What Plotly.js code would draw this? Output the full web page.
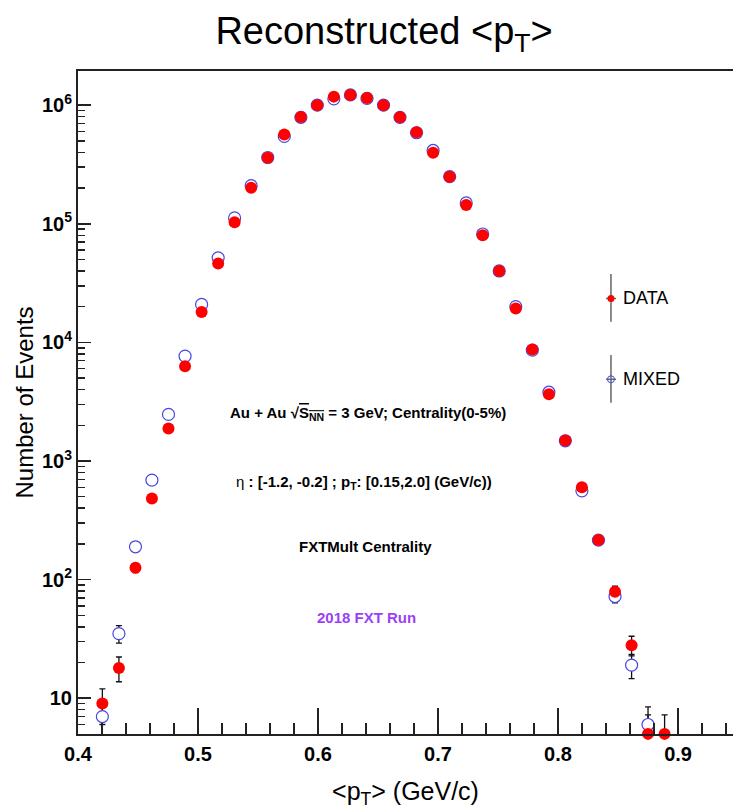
<!DOCTYPE html>
<html>
<head>
<meta charset="utf-8">
<script src="https://cdn.plot.ly/plotly-3.0.1.min.js"></script>
<style>html,body{margin:0;padding:0;background:#fff;}</style>
</head>
<body>
<div id="chart" style="width:733px;height:811px;"></div>
<script>
// Bin centres of the reconstructed <pT> histogram (GeV/c)
const binCenters = [
  0.4203, 0.4341, 0.4479, 0.4616, 0.4754, 0.4892, 0.5030, 0.5168, 0.5305, 0.5443,
  0.5581, 0.5719, 0.5857, 0.5994, 0.6132, 0.6270, 0.6408, 0.6546, 0.6683, 0.6821,
  0.6959, 0.7097, 0.7235, 0.7372, 0.7510, 0.7648, 0.7786, 0.7924, 0.8061, 0.8199,
  0.8337, 0.8475, 0.8613, 0.8750, 0.8888
];

// Same-event (DATA) counts per bin
const dataCounts = [
  9, 18, 126, 483, 1880, 6300, 18000, 46200, 103000, 201000,
  360000, 566000, 793000, 1000000, 1180000, 1220000, 1150000, 1000000, 790000, 590000,
  397000, 249000, 144000, 80000, 40000, 19300, 8700, 3660, 1490, 600,
  216, 79, 28, 5, 5
];

// Mixed-event (MIXED) counts per bin
const mixedCounts = [
  7, 35, 189, 689, 2470, 7650, 20900, 51600, 112000, 210000,
  362000, 545000, 790000, 1000000, 1130000, 1220000, 1140000, 1000000, 790000, 585000,
  415000, 250000, 150000, 82000, 40000, 20000, 8600, 3800, 1480, 560,
  215, 72, 19, 6, null
];

const xTickVals = [0.4, 0.5, 0.6, 0.7, 0.8, 0.9];
const xTickText = ['0.4', '0.5', '0.6', '0.7', '0.8', '0.9'];
const yTickVals = [10, 100, 1000, 10000, 100000, 1000000];
const yTickText = ['10', '10<sup>2</sup>', '10<sup>3</sup>', '10<sup>4</sup>', '10<sup>5</sup>', '10<sup>6</sup>'];

const FONT = 'Liberation Sans, Arial, Helvetica, sans-serif';
const RED = '#ff0000';
const BLUE = 'rgb(70,70,225)';

// minor log ticks (2..9 of each decade) and minor x ticks every 0.02
const yMinor = [];
for (let d = 0; d <= 6; d++) {
  for (let m = 2; m <= 9; m++) yMinor.push(m * Math.pow(10, d));
}
const xMinor = [];
for (let i = 0; i <= 30; i++) xMinor.push(+(0.4 + 0.02 * i).toFixed(2));

const errStyle = {type: 'sqrt', visible: true, color: '#111', thickness: 1.3, width: 3};

const traces = [
  // Poisson error bars, clipped to the frame
  {x: binCenters, y: mixedCounts, type: 'scatter', mode: 'markers',
   marker: {size: 12, opacity: 0}, error_y: errStyle, cliponaxis: true,
   hoverinfo: 'skip', showlegend: false},
  {x: binCenters, y: dataCounts, type: 'scatter', mode: 'markers',
   marker: {size: 12, opacity: 0}, error_y: errStyle, cliponaxis: true,
   hoverinfo: 'skip', showlegend: false},
  // markers (open circles keep a white core so the bars stop at the rim)
  {x: binCenters, y: mixedCounts, type: 'scatter', mode: 'markers', name: 'MIXED',
   marker: {symbol: 'circle', size: 12, color: '#ffffff', line: {width: 1.2, color: BLUE}},
   cliponaxis: false, showlegend: false},
  {x: binCenters, y: dataCounts, type: 'scatter', mode: 'markers', name: 'DATA',
   marker: {symbol: 'circle', size: 12, color: RED, line: {width: 0}},
   cliponaxis: false, showlegend: false}
];

const L = {x: 0.8137};
const annFont = {family: FONT, size: 15, color: '#000'};

const layout = {
  width: 733, height: 811,
  margin: {l: 78, r: 0, t: 71, b: 77},
  paper_bgcolor: '#fff', plot_bgcolor: '#fff',
  showlegend: false,
  title: {
    text: 'Reconstructed &lt;p<sub>T</sub>&gt;',
    font: {family: FONT, size: 38, color: '#000'},
    x: 0.524, xref: 'container', xanchor: 'center',
    y: 0.962, yref: 'container', yanchor: 'middle'
  },
  xaxis: {
    range: [0.4, 0.9458],
    showgrid: false, zeroline: false,
    showline: true, linecolor: '#222', linewidth: 2, mirror: true,
    ticks: 'inside', ticklen: 26, tickwidth: 1.5, tickcolor: '#222',
    tickmode: 'array', tickvals: xTickVals, ticktext: xTickText,
    tickfont: {family: FONT, size: 20, color: '#000', weight: 'bold'},
    ticklabelstandoff: 1,
    minor: {tickmode: 'array', tickvals: xMinor, ticks: 'inside', ticklen: 11,
            tickwidth: 1.5, tickcolor: '#222', showgrid: false},
    title: {text: '&lt;p<sub>T</sub>&gt; (GeV/c)', font: {family: FONT, size: 25, color: '#000'}, standoff: 18}
  },
  yaxis: {
    type: 'log',
    range: [0.698, 6.288],
    showgrid: false, zeroline: false,
    showline: true, linecolor: '#222', linewidth: 2, mirror: false,
    ticks: 'inside', ticklen: 13, tickwidth: 1.5, tickcolor: '#222',
    tickmode: 'array', tickvals: yTickVals, ticktext: yTickText,
    tickfont: {family: FONT, size: 20, color: '#000', weight: 'bold'},
    ticklabelstandoff: 0,
    minor: {tickmode: 'array', tickvals: yMinor, ticks: 'inside', ticklen: 7,
            tickwidth: 1.5, tickcolor: '#222', showgrid: false},
    title: {text: 'Number of Events', font: {family: FONT, size: 24, color: '#000'}, standoff: 2}
  },
  annotations: [
    {xref: 'paper', yref: 'paper', x: 0.4423, y: 0.4836, xanchor: 'center', yanchor: 'middle', showarrow: false,
     text: '<b>Au + Au √<span style="text-decoration:overline">S<sub>NN</sub></span> = 3 GeV; Centrality(0-5%)</b>', font: annFont},
    {xref: 'paper', yref: 'paper', x: 0.4362, y: 0.380, xanchor: 'center', yanchor: 'middle', showarrow: false,
     text: 'η<b> : [-1.2, -0.2] ; p<sub>T</sub>: [0.15,2.0] (GeV/c))</b>', font: annFont},
    {xref: 'paper', yref: 'paper', x: 0.4394, y: 0.2825, xanchor: 'center', yanchor: 'middle', showarrow: false,
     text: '<b>FXTMult Centrality</b>', font: annFont},
    {xref: 'paper', yref: 'paper', x: 0.4412, y: 0.1754, xanchor: 'center', yanchor: 'middle', showarrow: false,
     text: '<b>2018 FXT Run</b>', font: {family: FONT, size: 15, color: '#9b3ff5'}},
    {xref: 'paper', yref: 'paper', x: 0.8287, y: 0.6569, xanchor: 'left', yanchor: 'middle', showarrow: false,
     text: 'DATA', font: {family: FONT, size: 18, color: '#000'}},
    {xref: 'paper', yref: 'paper', x: 0.8287, y: 0.535, xanchor: 'left', yanchor: 'middle', showarrow: false,
     text: 'MIXED', font: {family: FONT, size: 18, color: '#000'}}
  ],
  shapes: [
    // DATA legend entry
    {type: 'line', xref: 'paper', yref: 'paper', x0: L.x, x1: L.x, y0: 0.6219, y1: 0.6938, line: {color: '#666', width: 1.5}},
    {type: 'line', xref: 'paper', yref: 'paper', xsizemode: 'pixel', xanchor: L.x, x0: -5, x1: 5, y0: 0.6569, y1: 0.6569, line: {color: '#666', width: 1.5}},
    {type: 'circle', xref: 'paper', yref: 'paper', xsizemode: 'pixel', ysizemode: 'pixel', xanchor: L.x, yanchor: 0.6569,
     x0: -3.5, x1: 3.5, y0: -3.5, y1: 3.5, fillcolor: RED, line: {width: 0}},
    // MIXED legend entry
    {type: 'line', xref: 'paper', yref: 'paper', x0: L.x, x1: L.x, y0: 0.4997, y1: 0.5716, line: {color: '#666', width: 1.5}},
    {type: 'line', xref: 'paper', yref: 'paper', xsizemode: 'pixel', xanchor: L.x, x0: -5, x1: 5, y0: 0.535, y1: 0.535, line: {color: '#666', width: 1.5}},
    {type: 'circle', xref: 'paper', yref: 'paper', xsizemode: 'pixel', ysizemode: 'pixel', xanchor: L.x, yanchor: 0.535,
     x0: -3.5, x1: 3.5, y0: -3.5, y1: 3.5, fillcolor: 'rgba(255,255,255,0)', line: {color: BLUE, width: 1}}
  ]
};

Plotly.newPlot('chart', traces, layout, {displayModeBar: false, staticPlot: true});
</script>
</body>
</html>
